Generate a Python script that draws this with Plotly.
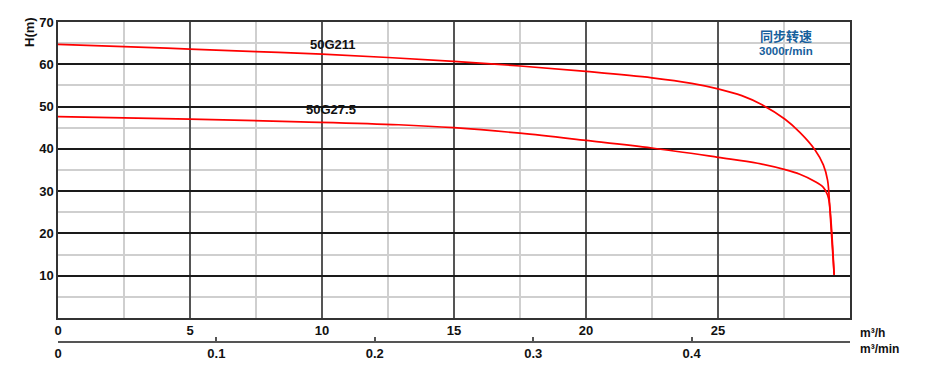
import plotly.graph_objects as go

# ---- data ----
q_50g211 = [0, 2.5, 5, 7.5, 10, 12.5, 15, 17.5, 20, 22.5, 24, 25, 25.9, 26.65, 27.54, 28.1, 28.67, 28.99, 29.15, 29.24, 29.4]
h_50g211 = [64.7, 64.2, 63.6, 63.0, 62.4, 61.6, 60.7, 59.6, 58.3, 56.8, 55.5, 54.2, 52.6, 50.5, 47.0, 43.9, 39.8, 36.2, 32.6, 25.5, 10.2]

q_50g27_5 = [0, 5, 9.2, 12.9, 15, 17.5, 20, 22.5, 25, 26.5, 27.54, 28.1, 28.67, 28.99, 29.15, 29.22, 29.4]
h_50g27_5 = [47.6, 47.05, 46.4, 45.7, 45.0, 43.7, 42.0, 40.2, 38.0, 36.6, 35.1, 34.0, 32.3, 30.9, 29.1, 27.1, 10.2]

x_ticks_m3h = [0, 5, 10, 15, 20, 25]
x_ticks_m3min = [0, 0.1, 0.2, 0.3, 0.4]
y_ticks = [10, 20, 30, 40, 50, 60, 70]

FONT = "Liberation Sans"
# the page body has an 8px margin: compensate so the picture lands at the reference pixels
OFF = 8
W, H = 932 - OFF, 367 - OFF
ML, MR, MT, MB = 58 - OFF, 82, 22 - OFF, 25
PW = W - ML - MR
PH = H - MT - MB
Y_DOM0 = 24 / PH


def px_x(px):
    return (px - OFF - ML) / PW


def px_y(py):
    return (H - MB - (py - OFF)) / PH


fig = go.Figure()
for q, h in [(q_50g211, h_50g211), (q_50g27_5, h_50g27_5)]:
    fig.add_trace(go.Scatter(x=q, y=h, mode="lines",
                             line=dict(color="#ff0000", width=1.7, shape="spline", smoothing=1.0),
                             hoverinfo="skip", showlegend=False))

# invisible trace for the m3/min axis
fig.add_trace(go.Scatter(x=[0, 0.5], y=[None, None], xaxis="x2", yaxis="y",
                         mode="lines", showlegend=False, hoverinfo="skip"))

tickfont = dict(family=FONT, size=13, color="#111", weight="bold")

fig.update_layout(
    template="none",
    width=W, height=H,
    margin=dict(l=ML, r=MR, t=MT, b=MB, autoexpand=False),
    paper_bgcolor="white", plot_bgcolor="white",
    xaxis=dict(range=[0, 30], tickvals=x_ticks_m3h, ticktext=[str(v) for v in x_ticks_m3h],
               showgrid=True, gridcolor="#555555", gridwidth=1.8,
               minor=dict(dtick=2.5, tick0=0, showgrid=True, gridcolor="#cfcfcf", gridwidth=1.5),
               showline=True, linecolor="#333", linewidth=1.5, mirror=True,
               ticks="", tickfont=tickfont, zeroline=False, anchor="y", automargin=False),
    xaxis2=dict(range=[0, 0.5], overlaying="x", anchor="free", position=0, side="bottom",
                tickvals=x_ticks_m3min, ticktext=["0", "0.1", "0.2", "0.3", "0.4"],
                showgrid=False, showline=True, linecolor="#555", linewidth=1.5,
                ticks="inside", ticklen=4, tickcolor="#555", tickwidth=1.5,
                tickfont=tickfont, zeroline=False, automargin=False),
    yaxis=dict(range=[0, 70], domain=[Y_DOM0, 1], tickvals=y_ticks,
               showgrid=True, gridcolor="#1a1a1a", gridwidth=1.5,
               minor=dict(dtick=5, tick0=0, showgrid=True, gridcolor="#cfcfcf", gridwidth=1.5),
               showline=True, linecolor="#333", linewidth=1.5, mirror=True,
               ticks="", tickfont=tickfont, zeroline=False, automargin=False),
)

ann = [
    dict(text="<b>50G211</b>", x=10.42, y=64.6, xref="x", yref="y", font=dict(family=FONT, size=13, color="#111")),
    dict(text="<b>50G27.5</b>", x=10.34, y=49.2, xref="x", yref="y", font=dict(family=FONT, size=13, color="#111")),
    dict(text="<b>同步转速</b>", x=27.58, y=66.7, xref="x", yref="y",
         font=dict(family="Noto Sans CJK SC", size=13, color="#17609c")),
    dict(text="<b>3000r/min</b>", x=27.58, y=63.1, xref="x", yref="y",
         font=dict(family=FONT, size=11.5, color="#17609c")),
    dict(text="<b>H(m)</b>", x=px_x(29), y=px_y(32), xref="paper", yref="paper", textangle=-90,
         font=dict(family=FONT, size=13, color="#111")),
    dict(text="<b>m³/h</b>", x=px_x(858), y=px_y(333), xref="paper", yref="paper", xanchor="left",
         font=dict(family=FONT, size=12, color="#111")),
    dict(text="<b>m³/min</b>", x=px_x(858), y=px_y(349), xref="paper", yref="paper", xanchor="left",
         font=dict(family=FONT, size=12, color="#111")),
]
for a in ann:
    a.setdefault("showarrow", False)
    a.setdefault("xanchor", "center")
    a.setdefault("yanchor", "middle")
fig.update_layout(annotations=ann)

fig.write_html("out.html")
